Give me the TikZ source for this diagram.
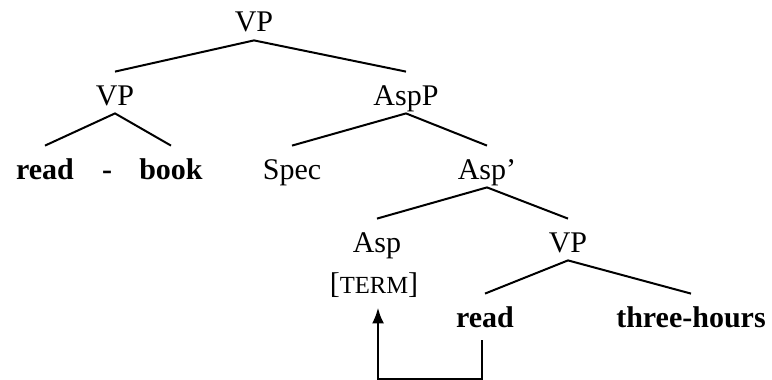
\documentclass[tikz,border=0pt]{standalone}
\usepackage{fontspec}
\setmainfont{Liberation Serif}
\usetikzlibrary{arrows.meta}

\tikzset{
  cat/.style={anchor=base, inner xsep=2pt, inner ysep=4pt, text height=12.5pt, text depth=0pt,
    font=\fontsize{15}{18}\selectfont},
  word/.style={cat, font=\fontsize{15}{18}\selectfont\bfseries},
  branch/.style={line width=1pt},
  movearrow/.style={line width=1.4pt, -{Latex[length=8pt,width=6pt]}}
}

\begin{document}
\begin{tikzpicture}[x=0.5pt, y=-0.5pt]

\useasboundingbox (0,0) rectangle (772,380);

% Draw the categories, row by row
\node[cat] (vp0) at (254,32) {VP};
\node[cat] (vp1) at (115,105) {VP};
\node[cat] (aspp) at (406,105) {AspP};
\node[word] (rd1) at (45,179) {read};
\node[word] (dash) at (107,179) {-};
\node[word] (book) at (171,179) {book};
\node[cat] (spec) at (292,179) {Spec};
\node[cat] (aspbar) at (487,179) {Asp'};
\node[cat] (asp) at (377,252) {Asp};
\node[cat] (term) at (374,293) {[{\fontsize{12.3}{14}\selectfont TERM}]};
\node[cat] (vp2) at (568,252) {VP};
\node[word] (rd2) at (485,327) {read};
\node[word] (hours) at (691,327) {three-hours};

% Draw the branches
\draw[branch] (vp1.north) -- (vp0.south) -- (aspp.north);
\draw[branch] (rd1.north) -- (vp1.south) -- (book.north);
\draw[branch] (spec.north) -- (aspp.south) -- (aspbar.north);
\draw[branch] (asp.north) -- (aspbar.south) -- (vp2.north);
\draw[branch] (rd2.north) -- (vp2.south) -- (hours.north);

% Head movement of the verb to Asp
\draw[movearrow] ([shift={(-3,5)}]rd2.south) -- ++(0,39) -| ([shift={(4,6)}]term.south);

\end{tikzpicture}
\end{document}
